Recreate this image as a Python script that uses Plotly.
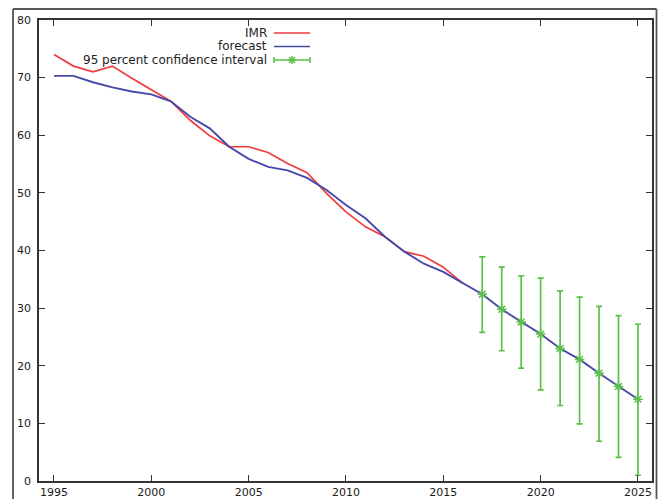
import plotly.graph_objects as go

# ---- data ----
years_obs = list(range(1995, 2017))
imr = [74.0, 72.0, 71.0, 72.0, 69.9, 67.9, 65.9, 62.6, 59.9, 58.0, 58.0, 57.0,
       55.1, 53.5, 49.9, 46.7, 44.1, 42.4, 39.8, 39.0, 37.1, 34.3]

years_fc = list(range(1995, 2026))
forecast = [70.3, 70.3, 69.2, 68.3, 67.6, 67.1, 65.9, 63.2, 61.2, 58.0, 55.9, 54.5,
            53.9, 52.6, 50.5, 47.9, 45.6, 42.4, 39.8, 37.7, 36.3, 34.3,
            32.4, 29.8, 27.6, 25.5, 23.0, 21.1, 18.7, 16.4, 14.2]

years_ci = list(range(2017, 2026))
ci_center = [32.4, 29.8, 27.6, 25.5, 23.0, 21.1, 18.7, 16.4, 14.2]
ci_upper = [38.9, 37.1, 35.6, 35.2, 33.0, 31.9, 30.3, 28.7, 27.2]
ci_lower = [25.8, 22.6, 19.6, 15.8, 13.1, 9.9, 6.9, 4.1, 1.0]

x_ticks = [1995, 2000, 2005, 2010, 2015, 2020, 2025]
y_ticks = [0, 10, 20, 30, 40, 50, 60, 70, 80]

legend_labels = ["IMR", "forecast", "95 percent confidence interval"]

RED = "#f03c3c"
BLUE = "#4848aa"
GREEN = "#5cc04a"

W, H = 662, 499
L, R, T, B = 39, 652, 20, 481  # plot area in pixels


def px(x):
    return (x - L) / (R - L)


def py(y):
    return (B - y) / (B - T)


fig = go.Figure()

fig.add_trace(go.Scatter(x=years_obs, y=imr, mode="lines", name=legend_labels[0],
                         line=dict(color=RED, width=1.7), showlegend=False))
fig.add_trace(go.Scatter(x=years_fc, y=forecast, mode="lines", name=legend_labels[1],
                         line=dict(color=BLUE, width=1.9), showlegend=False))
fig.add_trace(go.Scatter(
    x=years_ci, y=ci_center, mode="markers", name=legend_labels[2],
    marker=dict(symbol="asterisk-open", size=8, color=GREEN,
                line=dict(color=GREEN, width=1.5)),
    error_y=dict(type="data", symmetric=False,
                 array=[u - c for u, c in zip(ci_upper, ci_center)],
                 arrayminus=[c - l for c, l in zip(ci_center, ci_lower)],
                 color=GREEN, thickness=1.7, width=3),
    showlegend=False))

shapes = []
annotations = []
# outer frame (drawn as separate edges)
frame = dict(color="#555", width=1.8)
for (xa, ya, xb, yb) in ((13, 9, 656.5, 9), (13, 9, 13, 499), (656.5, 9, 656.5, 499)):
    shapes.append(dict(type="line", xref="paper", yref="paper",
                       x0=px(xa), x1=px(xb), y0=py(ya), y1=py(yb), line=frame))

# custom gnuplot-style legend (text left, sample right)
rows_y = [33, 46.5, 60]
colors = [RED, BLUE, GREEN]
for lab, yy, col in zip(legend_labels, rows_y, colors):
    annotations.append(dict(text=lab, xref="paper", yref="paper",
                            x=px(269), y=py(yy), xanchor="right", yanchor="middle",
                            showarrow=False,
                            font=dict(family="DejaVu Sans", size=12, color="#222")))
    shapes.append(dict(type="line", xref="paper", yref="paper",
                       x0=px(274), x1=px(310), y0=py(yy), y1=py(yy),
                       line=dict(color=col, width=1.6)))
# caps and star for CI legend entry
yy = rows_y[2]
for xc in (274, 310):
    shapes.append(dict(type="line", xref="paper", yref="paper",
                       x0=px(xc), x1=px(xc), y0=py(yy - 3), y1=py(yy + 3),
                       line=dict(color=GREEN, width=1.6)))
cx = 292
for dx, dy in ((4, 0), (0, 4), (3, 3), (3, -3)):
    shapes.append(dict(type="line", xref="paper", yref="paper",
                       x0=px(cx - dx), x1=px(cx + dx), y0=py(yy - dy), y1=py(yy + dy),
                       line=dict(color=GREEN, width=1.5)))

axis_font = dict(family="DejaVu Sans", size=11, color="#1a1a1a")
fig.update_layout(
    width=W, height=H,
    margin=dict(l=L, r=W - R, t=T, b=H - B, pad=0),
    plot_bgcolor="white", paper_bgcolor="white",
    shapes=shapes, annotations=annotations,
    xaxis=dict(range=[1994.23, 2025.72], tickvals=x_ticks,
               ticktext=[str(v) for v in x_ticks], automargin=False,
               ticks="inside", ticklen=6, tickwidth=1.2, tickcolor="#333",
               showline=True, linecolor="#333", linewidth=1.5, mirror="allticks",
               showgrid=False, zeroline=False, tickfont=axis_font,
               ticklabelstandoff=0),
    yaxis=dict(range=[0, 80], tickvals=y_ticks,
               ticktext=[str(v) for v in y_ticks], automargin=False,
               ticks="inside", ticklen=6, tickwidth=1.2, tickcolor="#333",
               showline=True, linecolor="#333", linewidth=1.5, mirror="allticks",
               showgrid=False, zeroline=False, tickfont=axis_font,
               ticklabelstandoff=4),
)

fig.write_html("out.html",
               config={"displayModeBar": False},
               post_script="document.body.style.margin='0';"
                           "document.body.style.overflow='hidden';")
